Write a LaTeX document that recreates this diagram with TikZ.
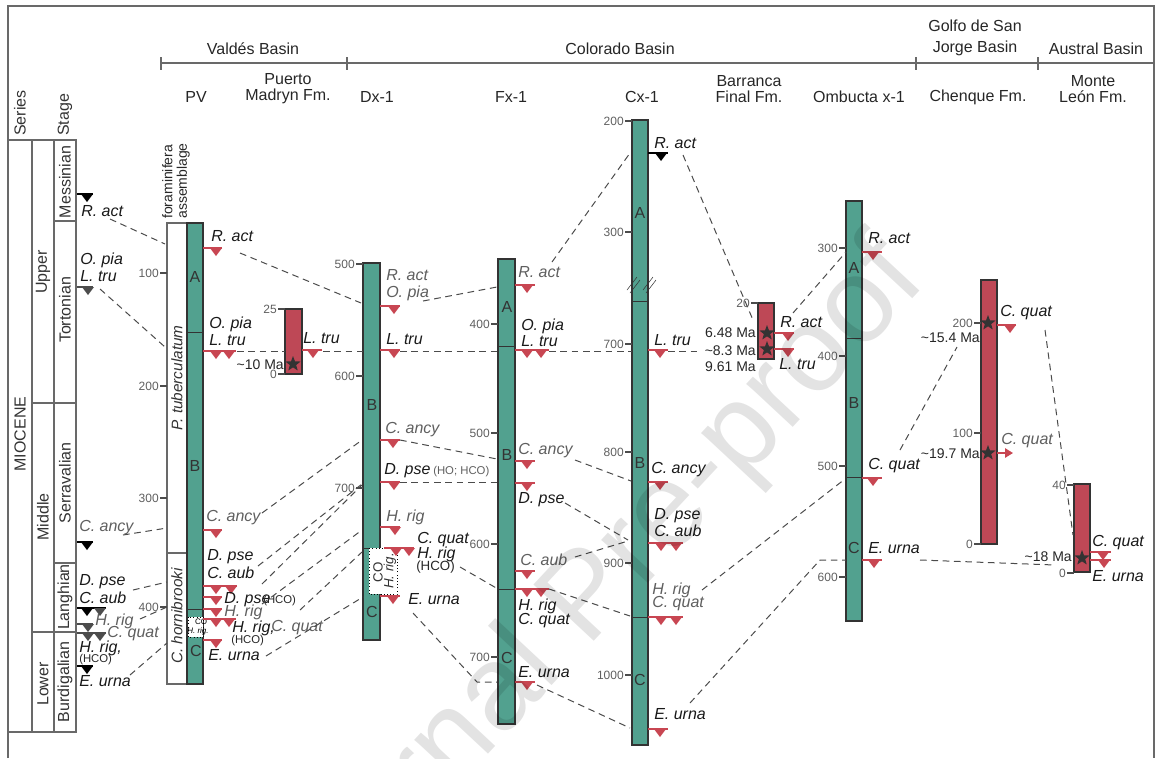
\documentclass[tikz,border=0pt]{standalone}
\usepackage{fontspec}
\setmainfont{Liberation Sans}
\usetikzlibrary{arrows.meta,shapes.geometric}

\definecolor{wellc}{RGB}{82,161,143}
\definecolor{boxred}{RGB}{190,72,86}
\definecolor{mkred}{RGB}{200,70,82}
\definecolor{framec}{RGB}{105,105,105}
\definecolor{greylab}{RGB}{95,95,95}
\definecolor{corrc}{RGB}{75,75,75}

\tikzset{
  hd/.style={font=\fontsize{12}{12}\selectfont, text=black!85, align=center, inner sep=0pt},
  sp/.style={font=\fontsize{12}{13}\selectfont\itshape, text=black!90, inner sep=0pt, anchor=west},
  spg/.style={sp, text=greylab},
  sm/.style={font=\fontsize{8.5}{9}\selectfont, text=black!85, inner sep=0pt, anchor=west},
  dp/.style={font=\fontsize{9}{9}\selectfont, text=greylab, inner sep=0pt, anchor=east},
  ma/.style={font=\fontsize{10.5}{11}\selectfont, text=black!85, inner sep=0pt, anchor=east},
  ltr/.style={font=\fontsize{12}{12}\selectfont, text=black!80, inner sep=0pt},
  vt/.style={ltr, rotate=90},
  well/.style={fill=wellc, draw=black!80, line width=0.9},
  redcol/.style={fill=boxred, draw=black!80, line width=0.9},
  corr/.style={draw=corrc, dash pattern=on 5pt off 3.5pt, line width=0.75},
  tk/.style={draw=black!70, line width=0.9},
  fr/.style={draw=framec, line width=1},
  agestar/.style={star, star points=5, star point ratio=2.4, fill=black!80, inner sep=0pt, minimum size=12pt},
}

% datum marker: [colour]{x start}{x end}{y}{triangle x list}
\newcommand{\datum}[5][mkred]{%
  \draw[#1, line width=1.3] (#2,#4) -- (#3,#4);
  \foreach \tx in {#5}{\fill[#1] (\tx-6,#4) -- (\tx+6,#4) -- (\tx,#4+8) -- cycle;}}
% depth tick: {name}{x}{y}{label}
\newcommand{\depth}[4]{%
  \draw[tk] (#2,#3) -- (#2+7,#3);
  \node[dp] (#1) at (#2-1,#3) {#4};}

\begin{document}
\begin{tikzpicture}[x=0.75pt,y=0.75pt,yscale=-1,xscale=1]
\useasboundingbox (0,0) rectangle (1155,758);

%Frame
\draw[fr] (8,758) -- (8,6) -- (1154,6) -- (1154,758);
%Basin line
\draw[fr] (161,63) -- (1154,63);
\foreach \bx in {161,347,916,1038}{\draw[fr] (\bx,57) -- (\bx,70);}

%Basin and section headers
\node[hd] (valdes) at (253,49) {Valdés Basin};
\node[hd] (colorado) at (620,49) {Colorado Basin};
\node[hd] (golfo) at (975,38) {Golfo de San\\[4pt]Jorge Basin};
\node[hd] (austral) at (1096,49) {Austral Basin};
\node[hd] (pvh) at (196,97) {PV};
\node[hd] (pmh) at (288,89) {Puerto\\Madryn Fm.};
\node[hd] (dxh) at (377,97) {Dx-1};
\node[hd] (fxh) at (511,97) {Fx-1};
\node[hd] (cxh) at (642,97) {Cx-1};
\node[hd] (bfh) at (749,89) {Barranca\\Final Fm.};
\node[hd] (omh) at (859,97) {Ombucta x-1};
\node[hd] (chh) at (978,97) {Chenque Fm.};
\node[hd] (mlh) at (1093,89) {Monte\\León Fm.};

%Chronostratigraphy
\node[vt, anchor=west] (series) at (20,136) {Series};
\node[vt, anchor=west] (stage) at (65,136) {Stage};
\draw[fr] (8,140) rectangle (76,732);
\draw[fr] (32,140) -- (32,732);
\draw[fr] (54,140) -- (54,732);
\draw[fr] (32,403) -- (76,403);
\draw[fr] (32,632) -- (76,632);
\draw[fr] (54,221) -- (76,221);
\draw[fr] (54,563) -- (76,563);
\node[vt] (miocene) at (20,434) {MIOCENE};
\node[vt] (upper) at (43,272) {Upper};
\node[vt] (middle) at (43,517) {Middle};
\node[vt] (lower) at (43,684) {Lower};
\node[vt] (messinian) at (65,182) {Messinian};
\node[vt] (tortonian) at (65,310) {Tortonian};
\node[vt] (serravalian) at (65,483) {Serravalian};
\node[vt] (langhian) at (65,597) {Langhian};
\node[vt] (burdigalian) at (65,682) {Burdigalian};

%Scale datums
\datum[black]{77}{93}{194}{87}
\node[sp] (sract) at (81,211) {R. act};
\datum[black!70]{77}{93}{287}{88}
\node[sp] (sopia) at (80,260) {O. pia};
\node[sp] (sltru) at (80,276) {L. tru};
\datum[black]{77}{93}{542}{87}
\node[spg] (sancy) at (79,528) {C. ancy};
\node[sp] (sdpse) at (79,582) {D. pse};
\node[sp] (scaub) at (79,598) {C. aub};
\datum[black]{77}{106}{608}{87}
\fill[black!70] (94,608) -- (106,608) -- (100,616) -- cycle;
\datum[black!70]{77}{93}{624}{88}
\node[spg] (shrig) at (95,621) {H. rig};
\datum[black!70]{77}{106}{633}{88,100}
\node[spg] (scquat) at (107,634) {C. quat};
\node[sp] (shrigh) at (79,648) {H. rig,};
\node[sm] (shco) at (79,660) {(HCO)};
\datum[black]{77}{93}{666}{87}
\node[sp] (seurna) at (79,681) {E. urna};

%PV section
\draw[fr, fill=white] (167,223) rectangle (187,684);
\draw[fr] (167,553) -- (187,553);
\draw[well] (187,223) rectangle (203,684);
\draw[black!80] (187,332) -- (203,332);
\draw[black!80] (187,609) -- (203,609);
\draw[black, dotted, fill=white] (188,617) rectangle (203,637);
\node[font=\fontsize{6}{6}\selectfont, inner sep=0] (pvco) at (201,622) {CO};
\node[font=\fontsize{6}{6}\selectfont\itshape, inner sep=0] (pvhr) at (198,631) {H. rig.};
\node[font=\fontsize{10.5}{11}\selectfont, text=black!85, inner sep=0, rotate=90, anchor=west, align=left] (foram) at (176,219) {foraminifera\\assemblage};
\node[vt, font=\fontsize{11.5}{12}\selectfont\itshape] (ptub) at (177,378) {P. tuberculatum};
\node[vt, font=\fontsize{11.5}{12}\selectfont\itshape] (chorn) at (177,616) {C. hornibrooki};
\node[ltr] (pva) at (195,277) {A};
\node[ltr] (pvb) at (195,466) {B};
\node[ltr] (pvc) at (196,651) {C};
\depth{pv100}{160}{273}{100}
\depth{pv200}{160}{386}{200}
\depth{pv300}{160}{498}{300}
\depth{pv400}{160}{607}{400}
\datum{203}{222}{248}{216}
\node[sp] (pvract) at (211,236) {R. act};
\datum{203}{236}{351}{216,229}
\node[sp] (pvopia) at (209,324) {O. pia};
\node[sp] (pvltru) at (209,340) {L. tru};
\datum{203}{222}{530}{216}
\node[spg] (pvancy) at (206,518) {C. ancy};
\node[sp] (pvdpse) at (207,557) {D. pse};
\node[sp] (pvcaub) at (207,573) {C. aub};
\datum{203}{237}{586}{216,231}
\datum{203}{222}{597}{216}
\node[sp] (pvdpseh) at (224,600) {D. pse};
\node[sm] (pvdpsehco) at (263,601) {(HCO)};
\datum{203}{222}{609}{216}
\node[spg] (pvhrig) at (224,612) {H. rig};
\datum{203}{236}{619}{216,229}
\node[sp] (pvhrigh) at (232,628) {H. rig,};
\node[sm] (pvhrighco) at (231,641) {(HCO)};
\node[spg] (pvcquat) at (271,628) {C. quat};
\datum{203}{222}{640}{216}
\node[sp] (pveurna) at (208,655) {E. urna};

%Puerto Madryn Fm.
\draw[redcol] (285,309) rectangle (302,374);
\depth{pm25}{278}{309}{25}
\depth{pm0}{278}{374}{0}
\node[agestar] (pmstar) at (293,364) {};
\node[ma] (pmage) at (284,365) {\textasciitilde10 Ma};
\datum{302}{322}{350}{313}
\node[sp] (pmltru) at (303,338) {L. tru};

%Dx-1
\draw[well] (363,263) rectangle (380,640);
\draw[black!80] (363,548) -- (380,548);
\draw[black, dotted, fill=white] (369,548) rectangle (397,594);
\node[vt, font=\fontsize{10}{10}\selectfont] (dxco) at (378,572) {CO};
\node[vt, font=\fontsize{10}{10}\selectfont\itshape] (dxhr) at (390,571) {H. rig.};
\node[ltr] (dxb) at (372,405) {B};
\node[ltr] (dxc) at (372,612) {C};
\depth{dx500}{356}{264}{500}
\depth{dx600}{356}{376}{600}
\depth{dx700}{356}{488}{700}
\datum{380}{400}{306}{394}
\node[spg] (dxract) at (386,275) {R. act};
\node[spg] (dxopia) at (386,293) {O. pia};
\datum{380}{400}{350}{394}
\node[sp] (dxltru) at (386,339) {L. tru};
\datum{380}{400}{440}{393}
\node[spg] (dxancy) at (385,430) {C. ancy};
\datum{380}{400}{482}{394}
\node[sp] (dxdpse) at (384,471) {D. pse};
\node[sm, text=greylab] (dxdpsehco) at (433,472) {(HO; HCO)};
\datum{380}{400}{527}{395}
\node[spg] (dxhrig) at (386,517) {H. rig};
\datum{384}{414}{548}{396,409}
\node[sp] (dxcquat) at (417,540) {C. quat};
\node[sp] (dxhrigh) at (417,554) {H. rig};
\node[sm, font=\fontsize{10}{10}\selectfont] (dxhco) at (416,567) {(HCO)};
\datum{380}{400}{596}{393}
\node[sp] (dxeurna) at (408,599) {E. urna};

%Fx-1
\draw[well] (498,259) rectangle (515,724);
\draw[black!80] (498,346) -- (515,346);
\draw[black!80] (498,589) -- (515,589);
\node[ltr] (fxa) at (507,307) {A};
\node[ltr] (fxb) at (507,455) {B};
\node[ltr] (fxc) at (507,658) {C};
\depth{fx400}{491}{324}{400}
\depth{fx500}{491}{433}{500}
\depth{fx600}{491}{544}{600}
\depth{fx700}{491}{657}{700}
\datum{515}{535}{285}{527}
\node[spg] (fxract) at (518,272) {R. act};
\datum{515}{549}{350}{527,541}
\node[sp] (fxopia) at (521,326) {O. pia};
\node[sp] (fxltru) at (521,341) {L. tru};
\datum{515}{535}{461}{527}
\node[spg] (fxancy) at (518,451) {C. ancy};
\datum{515}{535}{483}{527}
\node[sp] (fxdpse) at (518,500) {D. pse};
\datum{515}{535}{571}{527}
\node[spg] (fxcaub) at (520,560) {C. aub};
\datum{515}{549}{589}{527,541}
\node[sp] (fxhrig) at (518,606) {H. rig};
\node[sp] (fxcquat) at (518,621) {C. quat};
\datum{515}{535}{682}{527}
\node[sp] (fxeurna) at (518,672) {E. urna};

%Cx-1
\draw[well] (632,120) rectangle (648,745);
\draw[black!80] (632,301) -- (648,301);
\draw[black!80] (632,617) -- (648,617);
\draw[black!80] (627,290) -- (637,277) (630,293) -- (640,280);
\draw[black!80] (643,290) -- (653,277) (646,293) -- (656,280);
\node[ltr] (cxa) at (640,213) {A};
\node[ltr] (cxb) at (640,463) {B};
\node[ltr] (cxc) at (640,680) {C};
\depth{cx200}{625}{121}{200}
\depth{cx300}{625}{232}{300}
\depth{cx700}{625}{344}{700}
\depth{cx800}{625}{452}{800}
\depth{cx900}{625}{563}{900}
\depth{cx1000}{625}{675}{1000}
\datum[black]{648}{668}{153}{661}
\node[sp] (cxract) at (654,143) {R. act};
\datum{648}{668}{350}{660}
\node[sp] (cxltru) at (654,340) {L. tru};
\datum{648}{668}{482}{660}
\node[sp] (cxancy) at (651,470) {C. ancy};
\datum{648}{683}{543}{661,676}
\node[sp] (cxdpse) at (654,516) {D. pse};
\node[sp] (cxcaub) at (654,531) {C. aub};
\datum{648}{683}{617}{661,676}
\node[spg] (cxhrig) at (652,590) {H. rig};
\node[spg] (cxcquat) at (652,604) {C. quat};
\datum{648}{668}{729}{660}
\node[sp] (cxeurna) at (654,714) {E. urna};

%Barranca Final Fm.
\draw[redcol] (758,303) rectangle (774,359);
\depth{bf20}{751}{303}{20}
\node[agestar] (bfstara) at (767,333) {};
\node[agestar] (bfstarb) at (767,349) {};
\node[ma] (bfagea) at (756,333) {6.48 Ma};
\node[ma] (bfageb) at (756,351) {\textasciitilde8.3 Ma};
\node[ma] (bfagec) at (756,367) {9.61 Ma};
\datum{774}{794}{333}{788}
\node[sp] (bfract) at (780,322) {R. act};
\datum{774}{794}{349}{788}
\node[sp] (bfltru) at (779,364) {L. tru};

%Ombucta x-1
\draw[well] (846,201) rectangle (862,621);
\draw[black!80] (846,338) -- (862,338);
\draw[black!80] (846,477) -- (862,477);
\node[ltr] (oma) at (854,268) {A};
\node[ltr] (omb) at (854,403) {B};
\node[ltr] (omc) at (854,548) {C};
\depth{om300}{839}{248}{300}
\depth{om400}{839}{356}{400}
\depth{om500}{839}{466}{500}
\depth{om600}{839}{577}{600}
\datum{862}{882}{252}{873}
\node[sp] (omract) at (868,238) {R. act};
\datum{862}{882}{478}{873}
\node[sp] (omcquat) at (868,466) {C. quat};
\datum{862}{882}{560}{874}
\node[sp] (omeurna) at (868,548) {E. urna};

%Chenque Fm.
\draw[redcol] (981,280) rectangle (997,544);
\depth{ch200}{974}{323}{200}
\depth{ch100}{974}{433}{100}
\depth{ch0}{974}{544}{0}
\node[agestar] (chstara) at (988,323) {};
\node[agestar] (chstarb) at (988,453) {};
\node[ma] (chagea) at (980,338) {\textasciitilde15.4 Ma};
\node[ma] (chageb) at (980,454) {\textasciitilde19.7 Ma};
\datum{997}{1016}{325}{1010}
\node[sp] (chcquata) at (1000,313) {C. quat};
\draw[mkred, line width=1.3, -{Triangle[length=6,width=7]}] (997,453) -- (1013,453);
\node[spg] (chcquatb) at (1001,441) {C. quat};

%Monte Leon Fm.
\draw[redcol] (1074,484) rectangle (1090,572);
\depth{ml40}{1067}{485}{40}
\depth{ml0}{1067}{573}{0}
\node[agestar] (mlstar) at (1082,558) {};
\node[ma] (mlage) at (1072,557) {\textasciitilde18 Ma};
\datum{1090}{1111}{552}{1103}
\datum{1090}{1111}{560}{1104}
\node[sp] (mlcquat) at (1092,543) {C. quat};
\node[sp] (mleurna) at (1092,576) {E. urna};

%Correlation lines
\draw[corr] (110,219) -- (165,244);
\draw[corr] (100,289) -- (165,347);
\draw[corr] (123,535) -- (167,528);
\draw[corr] (133,590) -- (167,582);
\draw[corr] (140,619) -- (167,607);
\draw[corr] (130,675) -- (167,643);
\draw[corr] (240,253) -- (361,303);
\draw[corr] (237,351) -- (285,351);
\draw[corr] (323,351) -- (363,351);
\draw[corr] (400,351) -- (498,351);
\draw[corr] (549,351) -- (632,351);
\draw[corr] (668,351) -- (700,351);
\draw[corr] (423,301) -- (497,287);
\draw[corr] (552,262) -- (630,153);
\draw[corr] (683,155) -- (753,320);
\draw[corr] (793,313) -- (846,252);
\draw[corr] (262,513) -- (362,440);
\draw[corr] (400,440) -- (497,459);
\draw[corr] (575,460) -- (631,481);
\draw[corr] (258,566) -- (362,484);
\draw[corr] (262,584) -- (362,485);
\draw[corr] (400,482) -- (497,482);
\draw[corr] (262,604) -- (362,530);
\draw[corr] (300,610) -- (362,552);
\draw[corr] (266,656) -- (363,597);
\draw[corr] (460,567) -- (498,589);
\draw[corr] (413,613) -- (477,682) -- (497,682);
\draw[corr] (565,503) -- (628,540);
\draw[corr] (575,557) -- (628,541);
\draw[corr] (549,589) -- (630,616);
\draw[corr] (537,685) -- (630,728);
\draw[corr] (690,703) -- (820,560) -- (846,560);
\draw[corr] (702,590) -- (845,479);
\draw[corr] (900,450) -- (957,347);
\draw[corr] (920,560) -- (1055,565);
\draw[corr] (1045,330) -- (1073,535);

%Watermark
\begin{scope}
\clip (8,6) rectangle (1154,758);
\node[rotate=47, text=black, text opacity=0.11, font=\fontsize{90}{90}\selectfont, inner sep=0] (wmark) at (590,600) {Journal Pre-proof};
\end{scope}
\end{tikzpicture}
\end{document}
